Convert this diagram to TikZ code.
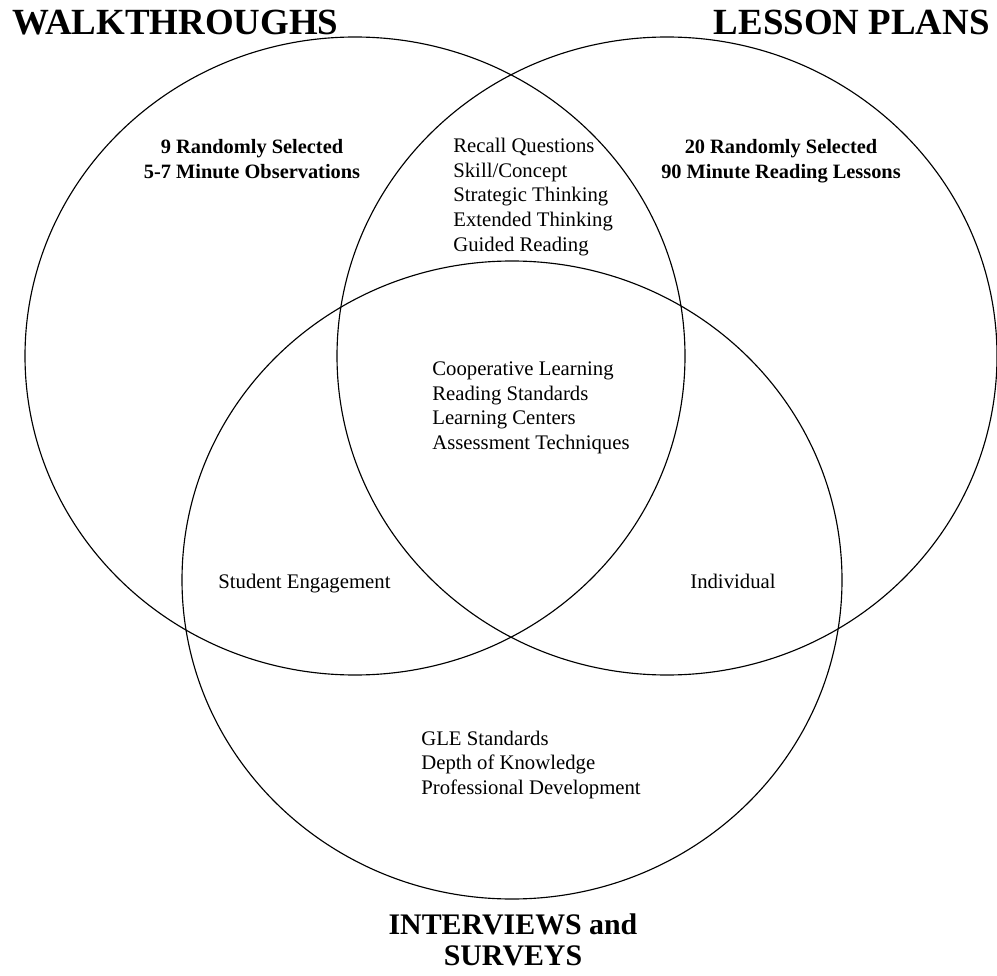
\documentclass[tikz,border=0pt]{standalone}
\usepackage{fontspec}
\setmainfont{Liberation Serif}

\begin{document}
\begin{tikzpicture}[x=0.02cm,y=-0.02cm,
    kreis/.style={line width=0.65pt},
    titel/.style={font=\fontsize{21}{24}\selectfont\bfseries,inner sep=0pt},
    untertitel/.style={font=\fontsize{11.6}{14.2}\selectfont\bfseries,align=center,inner sep=0pt},
    liste/.style={font=\fontsize{11.8}{14}\selectfont,align=left,anchor=west,inner sep=0pt}]
    \useasboundingbox (0,0) rectangle (997,976);

    % Halbachsen der Ellipsen
    \def\rx{330}
    \def\ry{319}
    \coordinate (W) at (355,356); % Walkthroughs
    \coordinate (L) at (667,356); % Lesson Plans
    \coordinate (I) at (512,580); % Interviews

    % Die drei Ellipsen
    \foreach \m in {W,L,I} {
        \draw[kreis] (\m) ellipse [x radius=\rx, y radius=\ry];
    }

    % Ueberschriften
    \node[titel,anchor=west] (walk) at (12,22.5) {WALKTHROUGHS};
    \node[titel,anchor=east] (lesson) at (990,22.5) {LESSON PLANS};
    \node[titel,font=\fontsize{17}{17.6}\selectfont\bfseries,align=center] (inter) at (513,939.5) {INTERVIEWS and\\SURVEYS};

    % Beschreibungen
    \node[untertitel] (walkinfo) at (252,159.5) {9 Randomly Selected\\5-7 Minute Observations};
    \node[untertitel] (lessoninfo) at (781,161.5) {20 Randomly Selected\\90 Minute Reading Lessons};

    % Schnittmengen
    \node[liste] (wl) at (453,197) {Recall Questions\\Skill/Concept\\Strategic Thinking\\Extended Thinking\\Guided Reading};
    \node[liste] (wli) at (432,408) {Cooperative Learning\\Reading Standards\\Learning Centers\\Assessment Techniques};
    \node[liste,anchor=base west] (wi) at (218,588) {Student Engagement};
    \node[liste,anchor=base west] (li) at (690,588) {Individual};
    \node[liste] (iinfo) at (421,765) {GLE Standards\\Depth of Knowledge\\Professional Development};
\end{tikzpicture}
\end{document}
